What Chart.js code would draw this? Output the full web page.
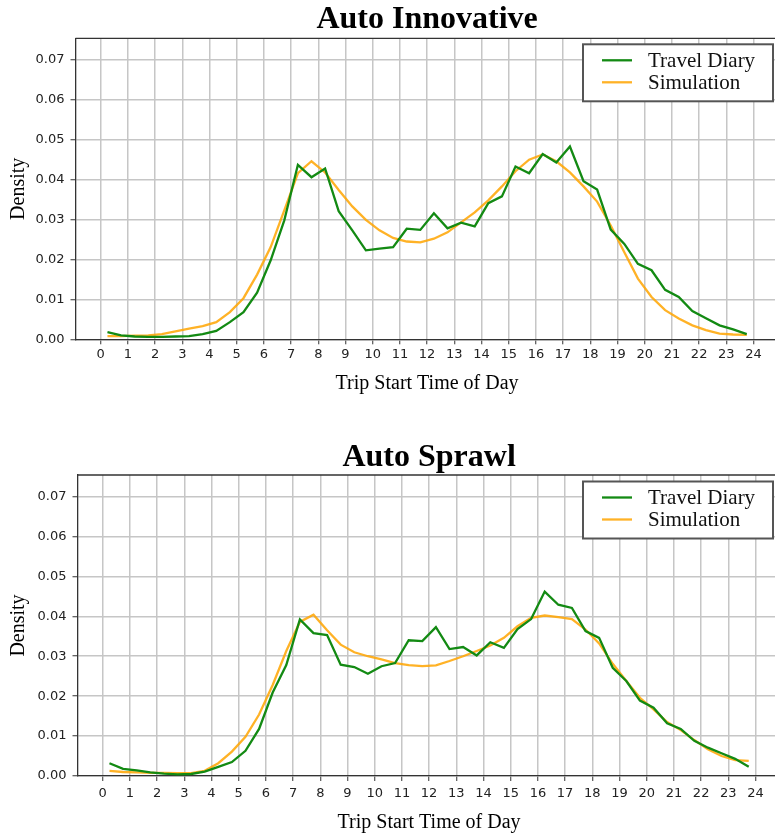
<!DOCTYPE html>
<html>
<head>
<meta charset="utf-8">
<script src="https://cdn.jsdelivr.net/npm/chart.js@4.4.1/dist/chart.umd.min.js"></script>
<style>
  html, body { margin: 0; padding: 0; background: #fff; width: 775px; height: 836px; overflow: hidden; }
  .wrap { position: absolute; left: 0; }
</style>
</head>
<body>
<div class="wrap" id="w1" style="top:0px;width:785px;height:400px;"><canvas id="c1" width="785" height="400"></canvas></div>
<div class="wrap" id="w2" style="top:436px;width:787px;height:400px;"><canvas id="c2" width="787" height="400"></canvas></div>
<script>
// ---------- DATA ----------
const hours = [0.25,0.75,1.25,1.75,2.25,2.75,3.25,3.75,4.25,4.75,5.25,5.75,6.25,6.75,7.25,7.75,
  8.25,8.75,9.25,9.75,10.25,10.75,11.25,11.75,12.25,12.75,13.25,13.75,14.25,14.75,15.25,15.75,
  16.25,16.75,17.25,17.75,18.25,18.75,19.25,19.75,20.25,20.75,21.25,21.75,22.25,22.75,23.25,23.75];

const seriesNames = ["Travel Diary", "Simulation"];
const chartTitles = ["Auto Innovative", "Auto Sprawl"];

const innovativeDiary = [0.0018,0.0010,0.0007,0.0006,0.0006,0.0007,0.0008,0.0013,0.0021,0.0043,0.0068,0.0117,0.0198,0.0298,0.0437,0.0406,
  0.0428,0.0321,0.0273,0.0223,0.0227,0.0231,0.0277,0.0274,0.0316,0.0278,0.0292,0.0283,0.0341,0.0358,0.0433,0.0416,
  0.0464,0.0443,0.0483,0.0396,0.0375,0.0275,0.0239,0.0189,0.0173,0.0124,0.0106,0.0071,0.0053,0.0035,0.0025,0.0013];
const innovativeSim = [0.0008,0.0008,0.0009,0.0010,0.0013,0.0020,0.0027,0.0033,0.0043,0.0068,0.0103,0.0162,0.0231,0.0323,0.0416,0.0446,
  0.0418,0.0374,0.0333,0.0299,0.0273,0.0254,0.0245,0.0243,0.0252,0.0268,0.0293,0.0318,0.0348,0.0383,0.0421,0.0450,
  0.0463,0.0446,0.0418,0.0383,0.0345,0.0285,0.0218,0.0152,0.0106,0.0073,0.0052,0.0035,0.0023,0.0014,0.0012,0.0011];

const sprawlDiary = [0.0032,0.0018,0.0014,0.0009,0.0006,0.0004,0.0005,0.0011,0.0023,0.0035,0.0063,0.0118,0.0209,0.0278,0.0392,0.0358,
  0.0353,0.0279,0.0273,0.0256,0.0275,0.0283,0.0340,0.0338,0.0373,0.0318,0.0323,0.0302,0.0335,0.0321,0.0368,0.0393,
  0.0462,0.0429,0.0421,0.0363,0.0346,0.0271,0.0238,0.0189,0.0171,0.0132,0.0118,0.0088,0.0071,0.0057,0.0043,0.0023];
const sprawlSim = [0.0013,0.0010,0.0009,0.0008,0.0008,0.0007,0.0007,0.0013,0.0032,0.0061,0.0098,0.0154,0.0228,0.0313,0.0386,0.0404,
  0.0365,0.0329,0.0310,0.0300,0.0292,0.0283,0.0278,0.0275,0.0277,0.0288,0.0300,0.0313,0.0327,0.0346,0.0375,0.0396,
  0.0402,0.0398,0.0393,0.0367,0.0332,0.0281,0.0238,0.0196,0.0167,0.0135,0.0115,0.0090,0.0067,0.0050,0.0040,0.0038];

const xMin = -0.925, xMax = 24.925;
const yMin = 0, yMax = 0.0754;

// ---------- STYLE ----------
const GREEN = '#138a13';
const ORANGE = 'rgba(255,165,0,0.85)';
const SERIF = "'Liberation Serif', 'Times New Roman', serif";
const SANS = "'DejaVu Sans', sans-serif";

const frameLegend = {
  id: 'frameLegend',
  afterDatasetsDraw(chart, args, opts) {
    const ctx = chart.ctx, a = chart.chartArea;
    ctx.save();
    ctx.strokeStyle = '#333';
    ctx.lineWidth = 1.3;
    ctx.beginPath();
    ctx.moveTo(a.left, a.top);
    ctx.lineTo(a.right, a.top);
    ctx.lineTo(a.right, a.bottom);
    ctx.stroke();
    // legend box
    const w = 190, h = 57;
    const x = a.right - opts.rightInset - w, y = a.top + opts.topInset;
    ctx.fillStyle = '#fff';
    ctx.fillRect(x, y, w, h);
    ctx.strokeStyle = '#555';
    ctx.lineWidth = 2;
    ctx.strokeRect(x, y, w, h);
    ctx.font = "21px " + SERIF;
    ctx.textBaseline = 'middle';
    ctx.textAlign = 'left';
    chart.data.datasets.forEach((ds, i) => {
      const yy = y + 16 + i * 22;
      ctx.strokeStyle = ds.borderColor;
      ctx.lineWidth = ds.borderWidth;
      ctx.beginPath();
      ctx.moveTo(x + 19, yy);
      ctx.lineTo(x + 49, yy);
      ctx.stroke();
      ctx.fillStyle = '#111';
      ctx.fillText(ds.label, x + 65, yy + 1);
    });
    ctx.restore();
  }
};

function makeChart(canvasId, title, diary, sim, cfg) {
  const pts = (arr) => hours.map((h, i) => ({ x: h, y: arr[i] }));
  return new Chart(document.getElementById(canvasId), {
    type: 'line',
    data: {
      datasets: [
        { label: seriesNames[0], data: pts(diary), borderColor: GREEN, borderWidth: 2.3, pointRadius: 0, tension: 0, fill: false },
        { label: seriesNames[1], data: pts(sim), borderColor: ORANGE, borderWidth: 2.3, pointRadius: 0, tension: 0, fill: false }
      ]
    },
    options: {
      responsive: false,
      animation: false,
      events: [],
      layout: { padding: { left: 0, right: 6.3, top: 0, bottom: 0 } },
      plugins: {
        legend: { display: false },
        tooltip: { enabled: false },
        frameLegend: { rightInset: cfg.legendRight, topInset: cfg.legendTop },
        title: {
          display: true,
          text: title,
          fullSize: false,
          color: '#000',
          font: { family: SERIF, size: 32, weight: 'bold', lineHeight: 1.1 },
          padding: cfg.titlePad
        }
      },
      scales: {
        x: {
          type: 'linear',
          min: xMin, max: xMax,
          grid: { color: '#c6c6c6', lineWidth: 1.5, drawTicks: true, tickLength: 5, tickColor: '#333', tickWidth: 1 },
          border: { display: true, color: '#333', width: 1.3 },
          ticks: { stepSize: 1, includeBounds: false, autoSkip: false, maxRotation: 0, color: '#222', padding: cfg.xTickPad,
                   font: { family: SANS, size: 13 }, callback: (v) => String(v) },
          title: { display: true, text: 'Trip Start Time of Day', color: '#000',
                   font: { family: SERIF, size: 20 }, padding: { top: 0, bottom: cfg.xTitlePad } },
          afterFit: (s) => { s.height = cfg.xAxisHeight; }
        },
        y: {
          type: 'linear',
          min: yMin, max: yMax,
          grid: { color: '#c6c6c6', lineWidth: 1.5, drawTicks: true, tickLength: 5, tickColor: '#333', tickWidth: 1 },
          border: { display: true, color: '#333', width: 1.3 },
          ticks: { stepSize: 0.01, includeBounds: false, color: '#222', padding: 6,
                   font: { family: SANS, size: 13 }, callback: (v) => v.toFixed(2) },
          title: { display: true, text: 'Density', color: '#000',
                   font: { family: SERIF, size: 20 }, padding: { top: 7, bottom: 0 } },
          afterFit: (s) => { s.width = cfg.yAxisWidth; }
        }
      }
    },
    plugins: [frameLegend]
  });
}

makeChart('c1', chartTitles[0], innovativeDiary, innovativeSim,
  { yAxisWidth: 75.5, xAxisHeight: 60.7, titlePad: { top: 2, bottom: 1.1 }, xTickPad: 3, xTitlePad: 4, legendRight: 5.7, legendTop: 6 });
makeChart('c2', chartTitles[1], sprawlDiary, sprawlSim,
  { yAxisWidth: 77.5, xAxisHeight: 60, titlePad: { top: 3.8, bottom: 0 }, xTickPad: 5, xTitlePad: 1, legendRight: 7.7, legendTop: 6.5 });
</script>
</body>
</html>
